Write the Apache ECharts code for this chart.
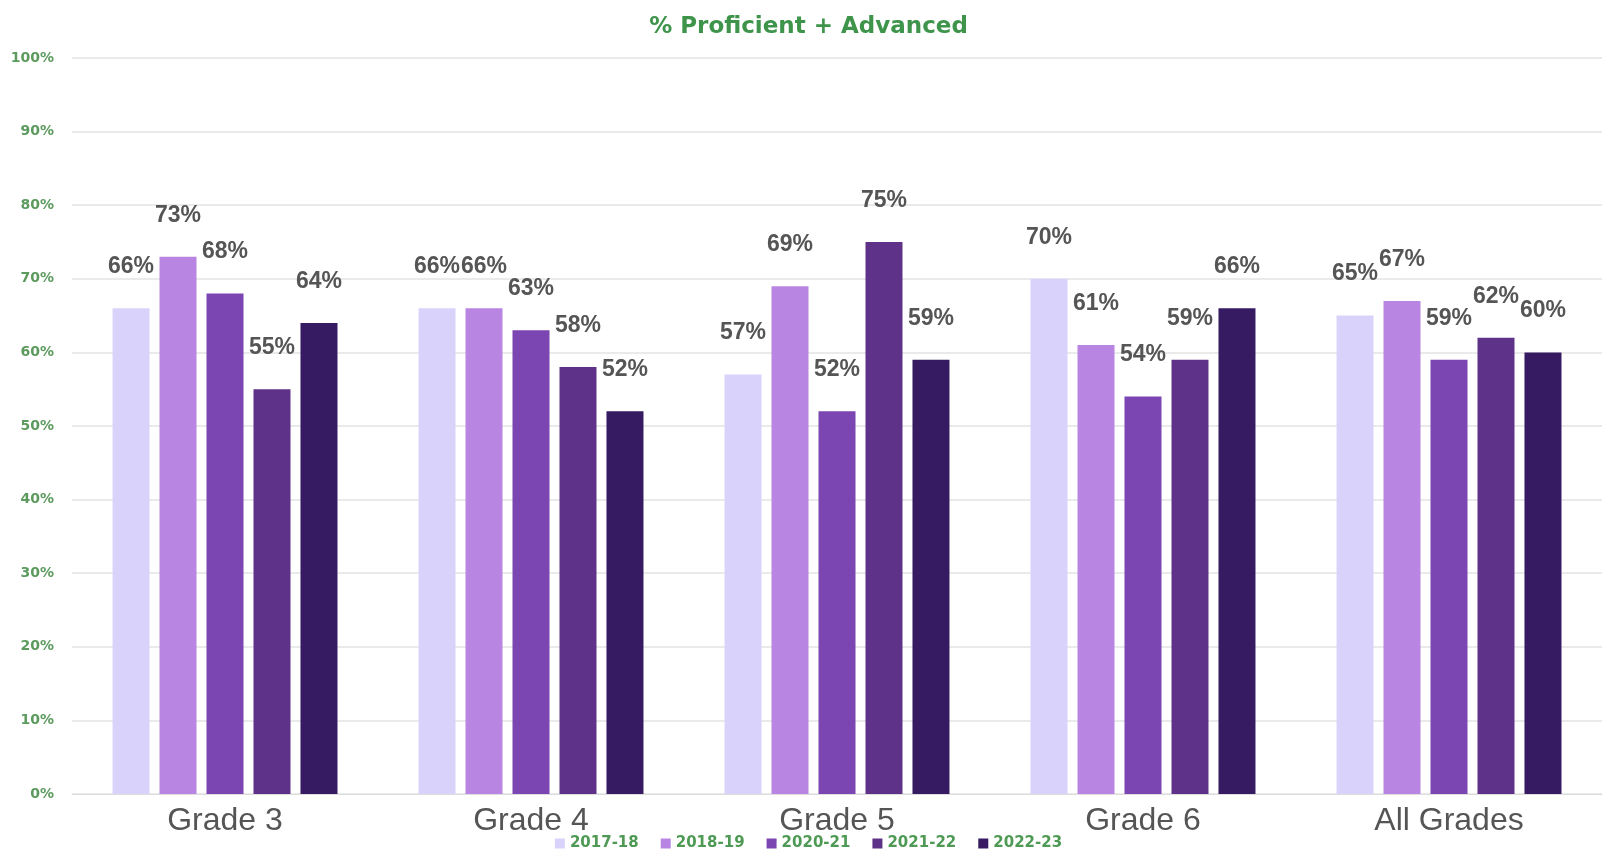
<!DOCTYPE html>
<html><head><meta charset="utf-8">
<script src="https://cdn.jsdelivr.net/npm/echarts@6/dist/echarts.min.js"></script>
<style>html,body{margin:0;padding:0;background:#fff}#c{width:1617px;height:862px}</style>
</head><body><div id="c"></div>
<script>
const categories = ['Grade 3', 'Grade 4', 'Grade 5', 'Grade 6', 'All Grades'];
const years = ['2017-18', '2018-19', '2020-21', '2021-22', '2022-23'];
const v2017 = [66, 66, 57, 70, 65];
const v2018 = [73, 66, 69, 61, 67];
const v2020 = [68, 63, 52, 54, 59];
const v2021 = [55, 58, 75, 59, 62];
const v2022 = [64, 52, 59, 66, 60];
const colors = ['#d9d3fb', '#b985e2', '#7b45b2', '#5f3289', '#361b63'];
const seriesData = [v2017, v2018, v2020, v2021, v2022];

const chart = echarts.init(document.getElementById('c'));
chart.setOption({
  backgroundColor: '#fff',
  animation: false,
  title: {
    text: '% Proficient + Advanced', left: 'center', top: 11,
    textStyle: { color: '#3d944a', fontSize: 23, fontWeight: 'bold', fontFamily: '"DejaVu Sans", sans-serif' }
  },
  legend: {
    bottom: 6, left: 'center', itemWidth: 10, itemHeight: 10, itemGap: 22, icon: 'rect',
    textStyle: { color: '#4e9a55', fontSize: 15, fontWeight: 'bold', fontFamily: '"DejaVu Sans", sans-serif' },
    data: years
  },
  grid: { left: 72, right: 15, top: 58, bottom: 68 },
  xAxis: {
    type: 'category', data: categories,
    axisLine: { lineStyle: { color: '#dddddd' } },
    axisTick: { show: false },
    axisLabel: { color: '#555', fontSize: 32, margin: 11, fontFamily: '"Liberation Sans", Arial, sans-serif' }
  },
  yAxis: {
    type: 'value', min: 0, max: 100, interval: 10,
    axisLine: { show: false }, axisTick: { show: false },
    splitLine: { lineStyle: { color: '#e3e3e3', width: 1.5 } },
    axisLabel: { formatter: '{value}%', color: '#5c9a5e', fontSize: 14, fontWeight: 'bold', margin: 18, fontFamily: '"DejaVu Sans", sans-serif' }
  },
  series: years.map((y, i) => ({
    name: y, type: 'bar', data: seriesData[i],
    barWidth: 37, barGap: '27%', barCategoryGap: '26%',
    itemStyle: { color: colors[i] },
    label: {
      show: true, position: 'top', distance: 30, formatter: '{c}%',
      color: '#555', fontSize: 23, fontWeight: 'bold', fontFamily: '"Liberation Sans", Arial, sans-serif'
    }
  }))
});
</script></body></html>
